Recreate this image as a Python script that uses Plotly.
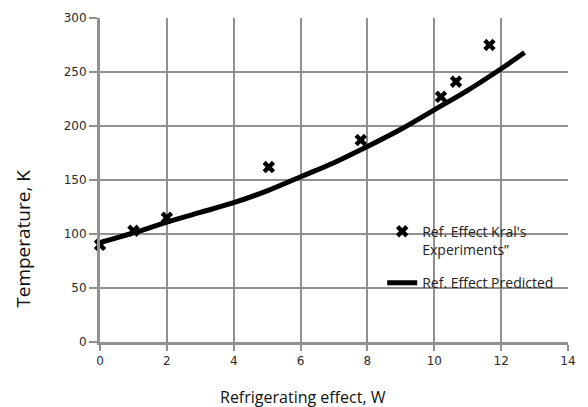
import plotly.graph_objects as go

# Experimental data (Kral's experiments)
exp_x = [0, 1, 2, 5.05, 7.8, 10.2, 10.65, 11.65]
exp_y = [90, 103, 115, 162, 187, 227, 241, 275]

# Predicted curve
pred_x = [0, 1, 2, 3, 4, 5, 6, 7, 8, 9, 10, 11, 12, 12.7]
pred_y = [92, 101, 111, 120, 129, 140, 153, 166, 181, 197, 215, 233, 253, 268]

x_ticks = [0, 2, 4, 6, 8, 10, 12, 14]
y_ticks = [0, 50, 100, 150, 200, 250, 300]

fig = go.Figure()
fig.add_trace(go.Scatter(
    x=exp_x, y=exp_y, mode="markers",
    name="Ref. Effect Kral's<br>Experiments\u201d",
    legendgroup="exp",
    marker=dict(symbol="x", size=11, color="black"),
    cliponaxis=False,
))
fig.add_trace(go.Scatter(
    x=pred_x, y=pred_y, mode="lines",
    name="Ref. Effect Predicted",
    legendgroup="pred",
    line=dict(color="black", width=5, shape="spline"),
    cliponaxis=False,
))

grid_c = "#909090"
tickfont = dict(family="DejaVu Sans", size=12, color="#2a2a2a")

fig.update_xaxes(
    range=[0, 14], tickvals=x_ticks, ticktext=[str(v) for v in x_ticks],
    showgrid=True, gridcolor=grid_c, gridwidth=2,
    showline=True, linecolor=grid_c, linewidth=3, mirror=False,
    ticks="outside", ticklen=6, tickwidth=2, tickcolor=grid_c,
    tickfont=tickfont, zeroline=False,
)
fig.update_yaxes(
    range=[0, 300], tickvals=y_ticks, ticktext=[str(v) for v in y_ticks],
    showgrid=True, gridcolor=grid_c, gridwidth=2,
    showline=True, linecolor=grid_c, linewidth=3, mirror=False,
    ticks="outside", ticklen=8, tickwidth=2, tickcolor=grid_c,
    tickfont=tickfont, zeroline=False,
)

fig.update_layout(
    width=588, height=407,
    margin=dict(l=100, r=20, t=18, b=65),
    paper_bgcolor="white", plot_bgcolor="white",
    showlegend=True,
    legend=dict(
        x=0.603, y=0.39, xanchor="left", yanchor="top",
        bgcolor="rgba(0,0,0,0)",
        font=dict(family="Open Sans", size=14, color="#222222"),
        traceorder="grouped", tracegroupgap=12, valign="top",
    ),
    annotations=[
        dict(text="Refrigerating effect, W", xref="paper", yref="paper",
             x=0.434, y=-0.170, showarrow=False, xanchor="center", yanchor="middle",
             font=dict(family="Open Sans", size=16, color="#111111")),
        dict(text="Temperature, K", xref="paper", yref="paper",
             x=-0.165, y=0.318, showarrow=False, textangle=-90,
             xanchor="center", yanchor="middle",
             font=dict(family="Open Sans", size=19, color="#111111")),
    ],
)

fig.write_html("out.html")
